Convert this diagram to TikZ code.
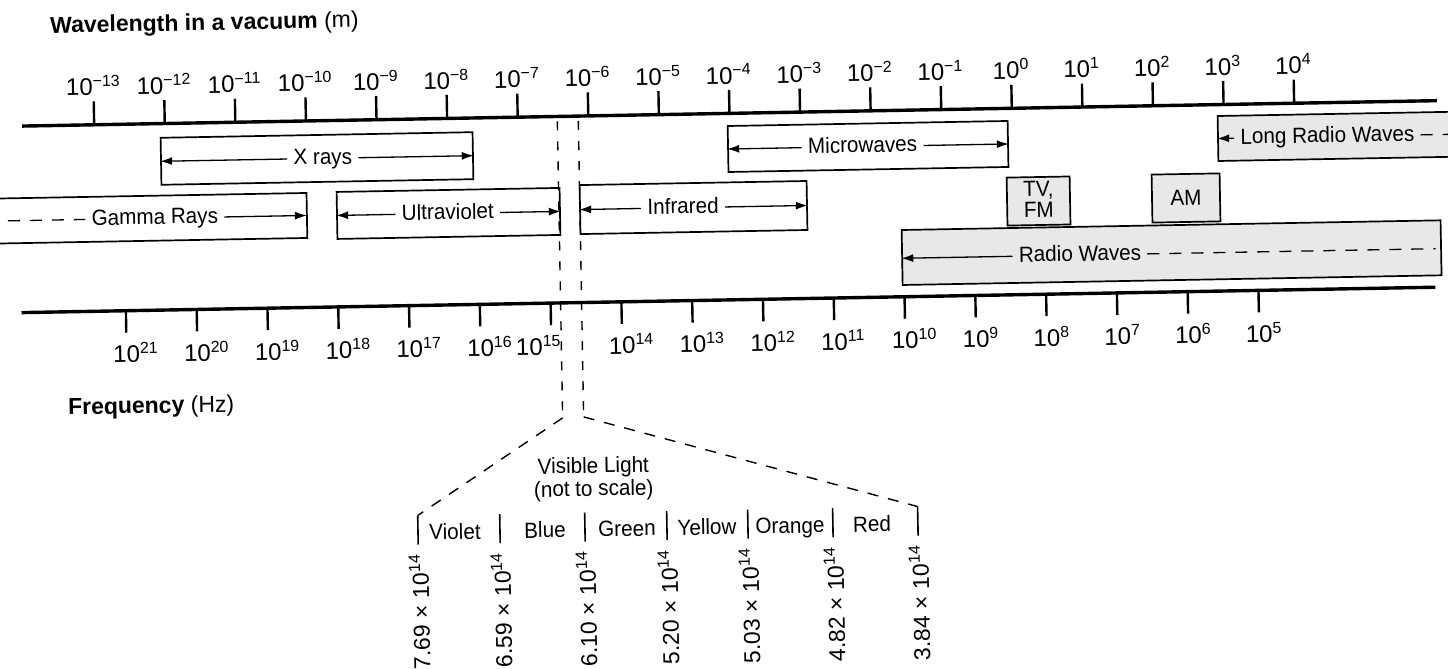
\documentclass[tikz,border=0pt]{standalone}
\usepackage{fontspec}
\setmainfont{Liberation Sans}
\newfontfamily\wordfont{Liberation Sans}[FakeStretch=0.94]
\usetikzlibrary{arrows.meta}
\newcommand\tp[1]{10\textsuperscript{#1}}
\newcommand\bt[1]{10\rlap{\textsuperscript{#1}}}
\begin{document}
\begin{tikzpicture}[x=0.5pt,y=-0.5pt,
  axis/.style={line width=1.7pt},
  tick/.style={line width=1.2pt},
  lab/.style={font=\fontsize{12}{14}\selectfont, inner sep=0pt},
  head/.style={font=\fontsize{11.5}{13}\selectfont, inner sep=0pt, anchor=base west},
  word/.style={font=\wordfont\fontsize{11}{13}\selectfont, inner sep=3pt, text height=8pt, text depth=2pt},
  two/.style={font=\wordfont\fontsize{11}{10.5}\selectfont, inner sep=0pt, align=center},
  box/.style={draw, line width=0.85pt, inner sep=0pt},
  shaded/.style={fill=black!9},
  arr/.style={line width=0.65pt, -{Latex[length=6pt,width=4pt]}},
  dashln/.style={line width=0.65pt, dash pattern=on 6pt off 5pt},
  vdash/.style={line width=0.7pt, dash pattern=on 4.5pt off 5.5pt},
  ddash/.style={line width=0.7pt, dash pattern=on 5.5pt off 5pt},
  bar/.style={line width=0.8pt},
  vlab/.style={font=\fontsize{11.5}{13}\selectfont, inner sep=0pt, rotate=90, anchor=base east},
]
\useasboundingbox (0,0) rectangle (1448,669);
\fill[white] (0,0) rectangle (1448,669);
\clip (0,0) rectangle (1448,669);
\begin{scope}[rotate around={1.03:(724,334)}, transform shape]

% titles
\node[head] (title) at (55.5,21) {\textbf{Wavelength in a vacuum} (m)};
\node[head] (freq) at (66.5,403) {\textbf{Frequency} (Hz)};

% wavelength axis
\draw[axis] (26,113.5) -- (1441,113.5);
\foreach \e [count=\k from 0] in {−13,−12,−11,−10,−9,−8,−7,−6,−5,−4,−3,−2,−1,0,1,2,3,4}{
  \draw[tick] (98+70.6*\k,90) -- (98+70.6*\k,113.5);
  \node[lab, anchor=base] (tl\k) at (98+70.6*\k,84) {\tp{\e}};
}

% frequency axis
\draw[axis] (22,300) -- (1436,300);
\foreach \e/\d [count=\k from 0] in {21/0,20/0,19/0,18/0,17/0,16/0,15/-22,14/0,13/0,12/0,11/0,10/0,9/0,8/0,7/0,6/0,5/0}{
  \draw[tick] (126.4+70.8*\k,300) -- (126.4+70.8*\k,322);
  \node[lab, anchor=base] (bl\k) at (126.4+70.8*\k+\d,352) {\bt{\e}};
}

% X rays
\node[box, minimum width=156pt, minimum height=23.5pt] (xray) at (320.2,151.2) {};
\node[word] (xt) at (326,151.2) {X rays};
\draw[arr] (xt.west) -- (xray.west);
\draw[arr] (xt.east) -- (xray.east);

% Microwaves
\node[box, minimum width=140pt, minimum height=23pt] (micro) at (871.4,149.1) {};
\node[word] (mt) at (866,149.1) {Microwaves};
\draw[arr] (mt.west) -- (micro.west);
\draw[arr] (mt.east) -- (micro.east);

% Long radio waves
\node[box, shaded, minimum width=129.25pt, minimum height=22.5pt] (longr) at (1350.7,147.4) {};
\node[word, anchor=west] (lt) at (1237.5,147.4) {Long Radio Waves};
\coordinate (lend) at (1480,147.4);
\draw[arr] (lt.west) -- (longr.west);
\draw[dashln] (lt.east) -- (lend);

% Gamma rays (open to the left)
\coordinate (gR) at (309.1,208);
\draw[line width=0.85pt] (-20,185.5) -- (309.1,185.5) -- (309.1,230.5) -- (-20,230.5);
\coordinate (gL) at (10,208);
\node[word] (gt) at (157,208) {Gamma Rays};
\draw[dashln] (gL) -- (gt.west);
\draw[arr] (gt.east) -- (gR);

% Ultraviolet
\node[box, minimum width=111.5pt, minimum height=23.5pt] (uv) at (450.7,208.5) {};
\node[word] (ut) at (450,208.5) {Ultraviolet};
\draw[arr] (ut.west) -- (uv.west);
\draw[arr] (ut.east) -- (uv.east);

% Infrared
\node[box, minimum width=113.5pt, minimum height=24.5pt] (ir) at (695.8,207) {};
\node[word] (it) at (685.3,207) {Infrared};
\draw[arr] (it.west) -- (ir.west);
\draw[arr] (it.east) -- (ir.east);

% TV FM and AM
\node[box, shaded, minimum width=31.5pt, minimum height=24pt] (tv) at (1040.9,206.7) {};
\node[two] (tvt) at (1041,205) {TV,\\FM};
\node[box, shaded, minimum width=34pt, minimum height=24pt] (am) at (1188.4,206.3) {};
\node[two] (amt) at (1188.4,206.3) {AM};

% Radio waves
\node[box, shaded, minimum width=269.5pt, minimum height=27.5pt] (radio) at (1173,260.7) {};
\node[word] (rt) at (1081.4,261.5) {Radio Waves};
\coordinate (rend) at (1437,261.5);
\draw[arr] (rt.west) -- (radio.west |- rt.west);
\draw[dashln] (rt.east) -- (rend);

% visible light
\coordinate (vlt) at (561.2,118.5);
\coordinate (vlb) at (561.2,415);
\coordinate (vrt) at (582.2,118.5);
\coordinate (vrb) at (582.2,414.4);
\draw[vdash] (vlt) -- (vlb);
\draw[vdash] (vrt) -- (vrb);

\foreach \x [count=\i] in {414.5,496.5,581.5,663.5,744.5,829.5,914.5}{
  \coordinate (b\i) at (\x,510);
  \coordinate (c\i) at (\x,539);
  \draw[bar] (b\i) -- (c\i);
}
\draw[ddash] (vlb) -- (b1);
\draw[ddash] (vrb) -- (b7);

\node[two, font=\wordfont\fontsize{11}{11.5}\selectfont] (vis) at (591,476.5) {Visible Light\\(not to scale)};

\foreach \n/\x in {Violet/451.5,Blue/541.5,Green/623.5,Yellow/703.5,Orange/786.5,Red/868.5}{
  \node[word, anchor=base] (n\n) at (\x,534.5) {\n};
}

\foreach \v/\x in {7.69/414.5,6.59/496.5,6.10/581.5,5.20/663.5,5.03/744.5,4.82/829.5,3.84/914.5}{
  \node[vlab] (f\v) at (\x+10,548) {\v\ × 10\textsuperscript{14}};
}

\end{scope}
\end{tikzpicture}
\end{document}
